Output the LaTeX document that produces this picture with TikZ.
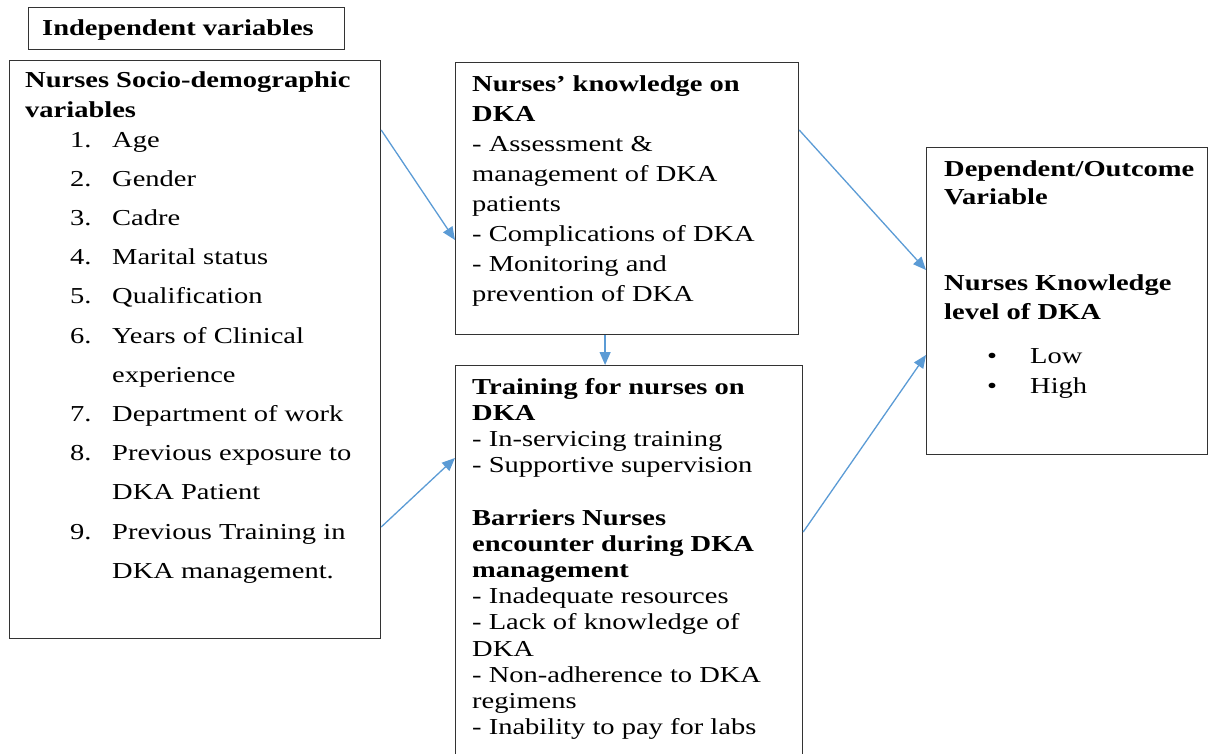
\documentclass[tikz,border=0pt]{standalone}
\usepackage{fontspec}
\setmainfont[FakeStretch=1.25]{Liberation Serif}
\usetikzlibrary{positioning,arrows.meta,calc}

\definecolor{linkblue}{HTML}{5B9BD5}
\tikzset{
  frame/.style={draw=black!80, line width=1.2pt, anchor=north west, inner sep=0pt},
  txt/.style={anchor=base west, align=left, inner sep=0pt},
  link/.style={draw=linkblue, line width=1.3pt, -{Triangle[length=13pt,width=11pt]}}
}

\begin{document}
\begin{tikzpicture}[x=1pt,y=-1pt,font=\fontsize{22.8}{26.2}\selectfont]
    \useasboundingbox (0,0) rectangle (1208,753);
    \clip (0,0) rectangle (1208,753);

    % boxes
    \node[frame, minimum width=316pt, minimum height=42pt] (indep) at (28,7) {};
    \node[frame, minimum width=371pt, minimum height=578pt] (socio) at (9,60) {};
    \node[frame, minimum width=343pt, minimum height=272pt] (know) at (455,62) {};
    \node[frame, minimum width=347pt, minimum height=420pt] (train) at (455,365) {};
    \node[frame, minimum width=281pt, minimum height=307pt] (outc) at (926,147) {};

    % texts (multi-line nodes sit on the baseline of their last line)
    \node[txt, font=\fontsize{22.8}{26.2}\selectfont\bfseries] (indepT) at (42,35) {Independent variables};

    \node[txt, font=\fontsize{22.8}{30}\selectfont\bfseries] (socioT) at (25,117)
        {Nurses Socio-demographic\\variables};
    \foreach \num/\entry [count=\k from 0] in {1./Age, 2./Gender, 3./Cadre, 4./Marital status,
        5./Qualification, 6./Years of Clinical, /experience, 7./Department of work,
        8./Previous exposure to, /DKA Patient, 9./Previous Training in, /DKA management.} {
        \node[txt] (num\k) at (70,147+39.2*\k) {\num};
        \node[txt] (entry\k) at (112,147+39.2*\k) {\entry};
    }

    \node[txt, font=\fontsize{22.8}{30.1}\selectfont] (knowT) at (472,301.7)
        {\textbf{Nurses' knowledge on}\\\textbf{DKA}\\- Assessment \&\\management of DKA\\patients\\
         - Complications of DKA\\- Monitoring and\\prevention of DKA};

    \node[txt, font=\fontsize{22.8}{26.2}\selectfont] (trainT) at (472,734.6)
        {\textbf{Training for nurses on}\\\textbf{DKA}\\- In-servicing training\\- Supportive supervision\\[26.2pt]
         \textbf{Barriers Nurses}\\\textbf{encounter during DKA}\\\textbf{management}\\
         - Inadequate resources\\- Lack of knowledge of\\DKA\\- Non-adherence to DKA\\regimens\\
         - Inability to pay for labs};

    \node[txt, font=\fontsize{22.8}{28.7}\selectfont\bfseries] (outcT) at (944,319.5)
        {Dependent/Outcome\\Variable\\[57.4pt]Nurses Knowledge\\level of DKA};
    \foreach \lvl [count=\i from 0] in {Low, High} {
        \node[txt] (lvl\i) at (987,363+30*\i) {\makebox[43pt][l]{\textbullet}\lvl};
    }

    % arrows
    \draw[link] ([yshift=-70pt]socio.north east) -- ([yshift=-178pt]know.north west);
    \draw[link] ([yshift=-467pt]socio.north east) -- ([yshift=-93pt]train.north west);
    \draw[link] ([yshift=-68pt]know.north east) -- ([yshift=-123pt]outc.north west);
    \draw[link] ([xshift=-22pt]know.south) -- ([xshift=-22pt]know.south |- train.north);
    \draw[link] ([yshift=-167pt]train.north east) -- ([yshift=-208pt]outc.north west);
\end{tikzpicture}
\end{document}
